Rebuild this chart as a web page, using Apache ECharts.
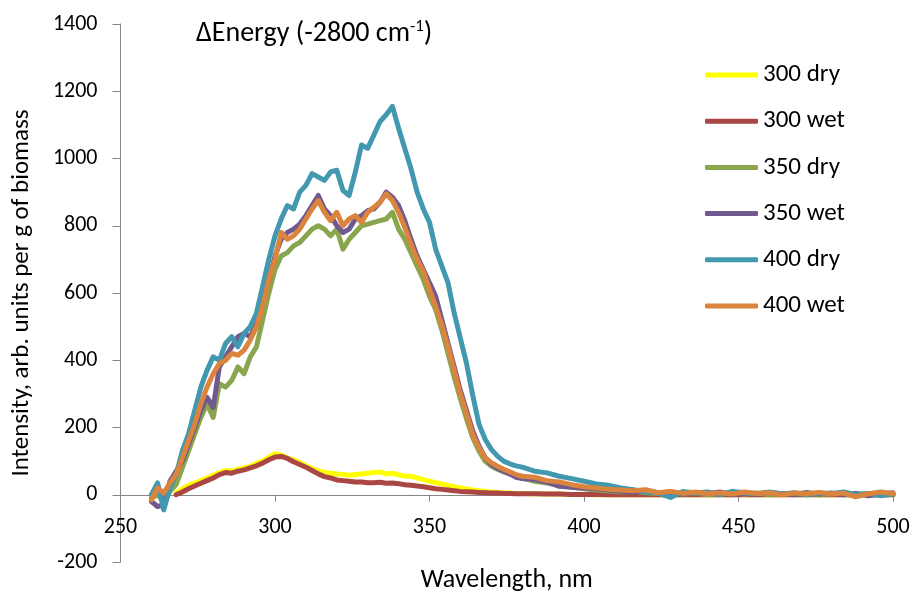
<!DOCTYPE html>
<html>
<head>
<meta charset="utf-8">
<script src="https://cdn.jsdelivr.net/npm/echarts@6/dist/echarts.min.js"></script>
<style>html,body{margin:0;padding:0;background:#fff}#c{width:917px;height:601px}</style>
</head>
<body>
<div id="c"></div>
<script>
// Wavelengths (nm): 260..380 step 2, then 384..500 step 4
const wavelengths = [260,262,264,266,268,270,272,274,276,278,280,282,284,286,288,290,292,294,296,298,300,302,304,306,308,310,312,314,316,318,320,322,324,326,328,330,332,334,336,338,340,342,344,346,348,350,352,354,356,358,360,362,364,366,368,370,372,374,376,378,380,
384,388,392,396,400,404,408,412,416,420,424,428,432,436,440,444,448,452,456,460,464,468,472,476,480,484,488,492,496,500];

const seriesNames = ['300 dry','300 wet','350 dry','350 wet','400 dry','400 wet'];

const dry300 = [null,null,null,null,5,18,28,35,42,50,58,66,72,70,76,80,84,94,100,112,122,118,110,104,96,86,78,72,66,64,62,60,58,60,62,64,66,68,62,64,59,56,55,50,45,40,36,32,28,24,20,17,14,12,10,8,7,6,5,4,4,
3,2,2,1,1,0,1,0,1,0,0,1,0,0,1,0,0,1,0,0,1,0,0,0,1,0,0,0,1,0];

const wet300 = [null,null,null,null,0,8,18,26,34,42,50,60,66,64,70,74,80,86,94,104,112,114,108,98,90,82,72,62,54,50,44,42,40,38,38,36,36,37,34,35,33,30,28,26,24,21,18,16,14,12,10,9,8,7,6,5,5,4,4,3,3,
3,2,2,1,1,1,0,1,0,0,1,0,0,0,1,0,0,0,1,0,0,0,1,0,0,0,1,0,0,0];

const dry350 = [-10,0,-20,10,30,80,130,180,230,270,230,330,320,340,380,360,410,440,520,600,670,710,720,740,750,770,790,800,790,770,790,730,760,780,800,805,810,815,820,840,790,760,720,680,640,590,550,490,420,350,285,225,170,130,100,85,76,68,62,55,50,
40,35,28,22,18,14,12,8,10,6,4,8,2,5,0,4,6,2,5,0,4,2,6,0,3,5,1,4,0,3];

const wet350 = [-20,-35,-30,40,70,100,150,200,250,290,260,380,410,440,470,480,470,510,570,640,710,760,780,790,805,830,860,890,850,830,800,780,790,820,830,845,850,870,900,885,860,815,760,710,670,630,590,520,450,380,310,250,190,145,110,90,78,70,62,52,48,
45,38,25,22,20,18,14,10,8,12,5,8,2,6,4,8,0,5,2,7,3,0,6,2,5,0,4,-3,2,6];

const dry400 = [0,35,-45,20,60,130,180,250,320,370,410,400,450,470,440,480,500,540,620,700,770,820,860,850,900,920,955,945,935,960,965,905,890,960,1040,1030,1070,1110,1130,1155,1090,1030,970,900,850,810,730,680,630,540,465,390,295,210,165,135,115,100,92,86,82,
70,65,55,48,40,32,28,20,15,8,5,-8,10,5,8,0,10,6,3,8,2,6,0,5,3,8,0,4,-3,2];

const wet400 = [-15,20,5,35,60,110,160,210,270,320,360,390,400,420,415,430,460,500,560,640,700,780,760,770,790,820,850,875,840,815,840,800,820,830,810,840,855,870,895,875,840,795,745,700,665,610,560,505,440,370,300,240,180,140,110,95,85,76,68,60,55,
52,42,38,30,24,20,16,14,12,15,6,10,4,8,3,6,2,8,4,6,0,5,3,7,2,5,-6,3,8,4];

const seriesValues = [dry300, wet300, dry350, wet350, dry400, wet400];
const seriesColors = ['#FFFF00','#AA4643','#89A54E','#71588F','#4198AF','#DB843D'];

const xTicks = {min:250, max:500, interval:50};
const yTicks = {min:-200, max:1400, interval:200};

const FONT = 'Carlito, Lato, "Open Sans", sans-serif';
const GRID = {left: 120.5, right: 24, top: 24, bottom: 39};
const PLOT_H = 601 - GRID.top - GRID.bottom;
// pixel distance from the bottom of the plot to the y = 0 line (x axis crosses there)
const zeroOffset = PLOT_H * (0 - yTicks.min) / (yTicks.max - yTicks.min);

const chart = echarts.init(document.getElementById('c'), null, {renderer:'canvas'});

const series = seriesNames.map((name, i) => ({
  name: name,
  type: 'line',
  data: wavelengths.map((w, j) => [w, seriesValues[i][j]]),
  showSymbol: false,
  symbol: 'none',
  connectNulls: false,
  lineStyle: {width: 5, color: seriesColors[i], cap: 'round', join: 'round'},
  itemStyle: {color: seriesColors[i]},
  emphasis: {disabled: true},
  z: 2 + i
}));

chart.setOption({
  animation: false,
  backgroundColor: '#ffffff',
  title: {
    text: '{a|ΔEnergy (-2800 cm}{s|-1}{a|)}',
    left: 191,
    top: 13,
    textStyle: {
      fontWeight: 'normal',
      rich: {
        a: {fontFamily: FONT, fontSize: 28, fontWeight: 'normal', color: '#000', lineHeight: 32},
        s: {fontFamily: FONT, fontSize: 17, fontWeight: 'normal', color: '#000', lineHeight: 32, verticalAlign: 'top'}
      }
    }
  },
  grid: Object.assign({containLabel: false, outerBoundsMode: 'none'}, GRID),
  legend: {
    orient: 'vertical',
    left: 700,
    top: 56,
    itemWidth: 53,
    itemHeight: 5,
    itemGap: 18.2,
    icon: 'roundRect',
    textStyle: {fontFamily: FONT, fontSize: 25, color: '#000', lineHeight: 28},
    data: seriesNames
  },
  xAxis: {
    type: 'value',
    position: 'bottom',
    offset: -zeroOffset,
    min: xTicks.min, max: xTicks.max, interval: xTicks.interval,
    name: 'Wavelength, nm',
    nameLocation: 'middle',
    nameGap: 73,
    nameTextStyle: {fontFamily: FONT, fontSize: 26, color: '#000'},
    axisLine: {show: true, onZero: false, lineStyle: {color: '#868686', width: 1}},
    axisTick: {show: true, length: 7, lineStyle: {color: '#868686'}},
    axisLabel: {fontFamily: FONT, fontSize: 22, color: '#000', margin: 22, formatter: v => String(v)},
    splitLine: {show: false}
  },
  yAxis: {
    type: 'value',
    min: yTicks.min, max: yTicks.max, interval: yTicks.interval,
    name: 'Intensity, arb. units per g of biomass',
    nameLocation: 'middle',
    nameGap: 86,
    nameTextStyle: {fontFamily: FONT, fontSize: 25, color: '#000'},
    axisLine: {show: true, onZero: false, lineStyle: {color: '#868686', width: 1}},
    axisTick: {show: true, length: 8, lineStyle: {color: '#868686'}},
    axisLabel: {fontFamily: FONT, fontSize: 22, color: '#000', margin: 23, formatter: v => String(v)},
    splitLine: {show: false}
  },
  series: series
});
</script>
</body>
</html>
